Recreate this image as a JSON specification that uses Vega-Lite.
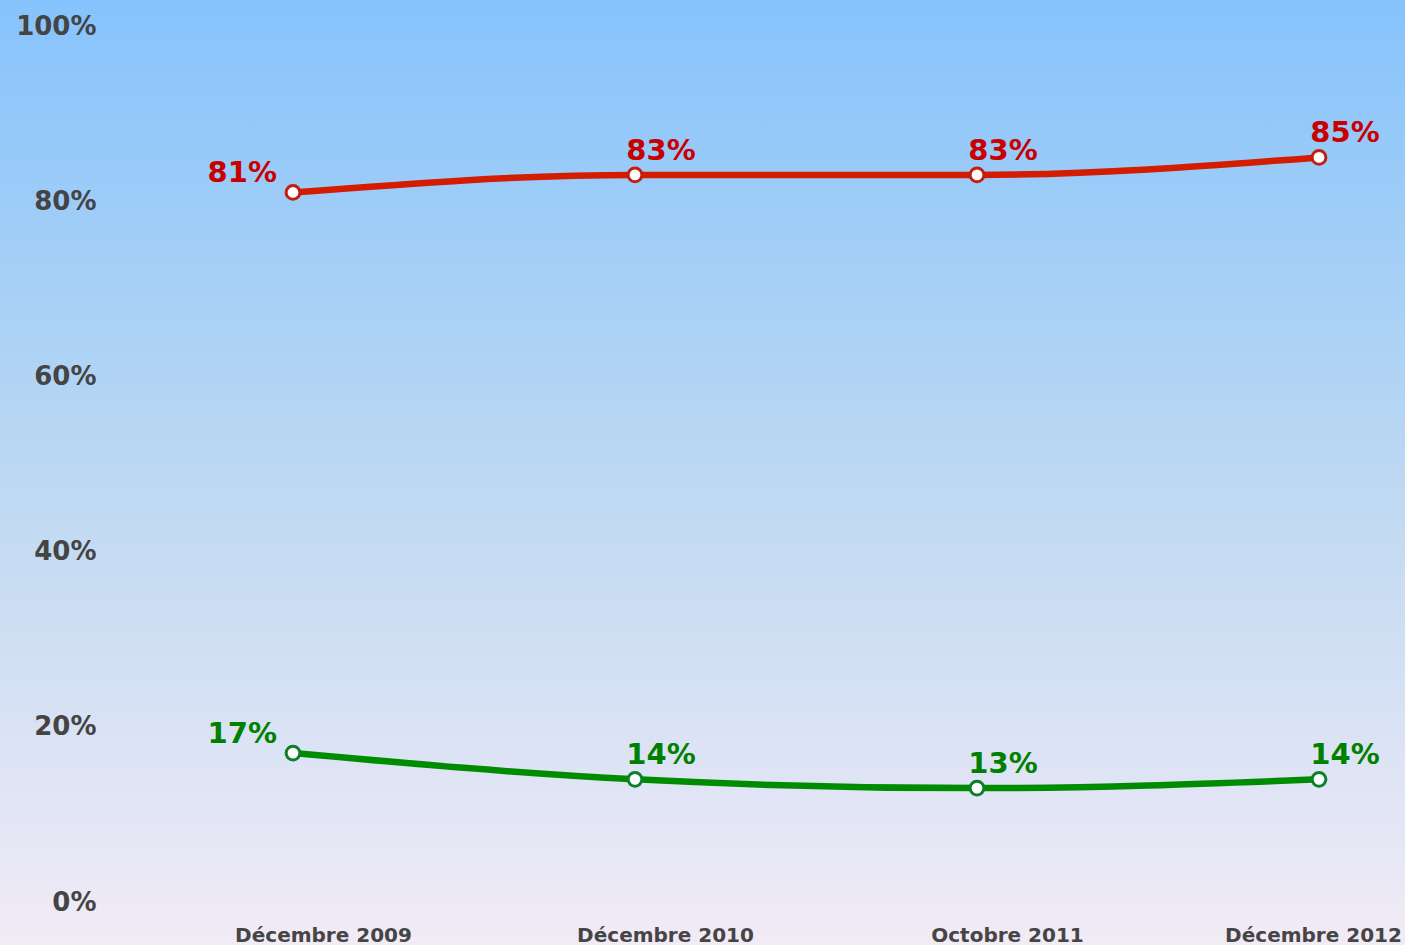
{
  "$schema": "https://vega.github.io/schema/vega-lite/v6.json",
  "width": 1405,
  "height": 945,
  "autosize": {"type": "none"},
  "padding": 0,
  "background": "#f0eaf6",
  "config": {"view": {"stroke": null}, "font": "DejaVu Sans"},
  "datasets": {
    "series": [
      {"date": "Décembre 2009", "serie": "Série 1", "pct": 0.81},
      {"date": "Décembre 2010", "serie": "Série 1", "pct": 0.83},
      {"date": "Octobre 2011", "serie": "Série 1", "pct": 0.83},
      {"date": "Décembre 2012", "serie": "Série 1", "pct": 0.85},
      {"date": "Décembre 2009", "serie": "Série 2", "pct": 0.17},
      {"date": "Décembre 2010", "serie": "Série 2", "pct": 0.14},
      {"date": "Octobre 2011", "serie": "Série 2", "pct": 0.13},
      {"date": "Décembre 2012", "serie": "Série 2", "pct": 0.14}
    ]
  },
  "layer": [
    {
      "data": {"values": [{"bg": 1}]},
      "mark": {
        "type": "rect",
        "fill": {
          "gradient": "linear", "x1": 0, "y1": 0, "x2": 0, "y2": 1,
          "stops": [
            {"offset": 0, "color": "#86c3fc"},
            {"offset": 0.5, "color": "#bcd8f2"},
            {"offset": 1, "color": "#f2ebf6"}
          ]
        }
      },
      "encoding": {
        "x": {"value": 0}, "x2": {"value": "width"},
        "y": {"value": 0}, "y2": {"value": "height"}
      }
    },
    {
      "data": {"name": "series"},
      "layer": [
        {
          "mark": {"type": "line", "strokeWidth": 6.5, "interpolate": "monotone"},
          "encoding": {
            "x": {
              "field": "date", "type": "ordinal", "sort": null,
              "scale": {"type": "point", "range": [293, 1319], "padding": 0},
              "axis": {
                "orient": "bottom", "offset": -20, "title": null, "zindex": 2,
                "domain": false, "ticks": false, "grid": false,
                "labelAngle": 0, "labelPadding": 0, "labelBaseline": "top",
                "labelFont": "DejaVu Sans", "labelFontSize": 20, "labelFontWeight": "bold",
                "labelColor": "#454545",
                "labelOffset": {"condition": {"test": "datum.value === 'Décembre 2012'", "value": -6}, "value": 30}
              }
            },
            "y": {
              "field": "pct", "type": "quantitative",
              "scale": {"domain": [0, 1], "range": [902, 26], "nice": false, "zero": false},
              "axis": {
                "orient": "left", "offset": -100, "title": null, "zindex": 2,
                "domain": false, "ticks": false, "grid": false,
                "values": [0, 0.2, 0.4, 0.6, 0.8, 1],
                "format": ".0%",
                "labelPadding": 4,
                "labelFont": "DejaVu Sans", "labelFontSize": 26, "labelFontWeight": "bold",
                "labelColor": "#444444"
              }
            },
            "color": {
              "field": "serie", "type": "nominal", "legend": null,
              "scale": {"domain": ["Série 1", "Série 2"], "range": ["#d41c00", "#008c00"]}
            }
          }
        },
        {
          "mark": {"type": "point", "filled": false, "fill": "white", "fillOpacity": 1, "size": 190, "strokeWidth": 3, "opacity": 1},
          "encoding": {
            "x": {"field": "date", "type": "ordinal", "sort": null},
            "y": {"field": "pct", "type": "quantitative"},
            "color": {
              "field": "serie", "type": "nominal", "legend": null,
              "scale": {"domain": ["Série 1", "Série 2"], "range": ["#c41e10", "#0b7f2a"]}
            }
          }
        },
        {
          "transform": [{"filter": "datum.date === 'Décembre 2009'"}],
          "mark": {"type": "text", "align": "right", "baseline": "middle", "dx": -16, "dy": -19, "fontSize": 29, "fontWeight": "bold", "font": "DejaVu Sans"},
          "encoding": {
            "x": {"field": "date", "type": "ordinal", "sort": null},
            "y": {"field": "pct", "type": "quantitative"},
            "text": {"field": "pct", "type": "quantitative", "format": ".0%"},
            "color": {
              "field": "serie", "type": "nominal", "legend": null,
              "scale": {"domain": ["Série 1", "Série 2"], "range": ["#c80000", "#008000"]}
            }
          }
        },
        {
          "transform": [{"filter": "datum.date !== 'Décembre 2009'"}],
          "mark": {"type": "text", "align": "center", "baseline": "middle", "dx": 26, "dy": -24, "fontSize": 29, "fontWeight": "bold", "font": "DejaVu Sans"},
          "encoding": {
            "x": {"field": "date", "type": "ordinal", "sort": null},
            "y": {"field": "pct", "type": "quantitative"},
            "text": {"field": "pct", "type": "quantitative", "format": ".0%"},
            "color": {
              "field": "serie", "type": "nominal", "legend": null,
              "scale": {"domain": ["Série 1", "Série 2"], "range": ["#c80000", "#008000"]}
            }
          }
        }
      ],
      "resolve": {"scale": {"color": "independent"}}
    }
  ]
}
